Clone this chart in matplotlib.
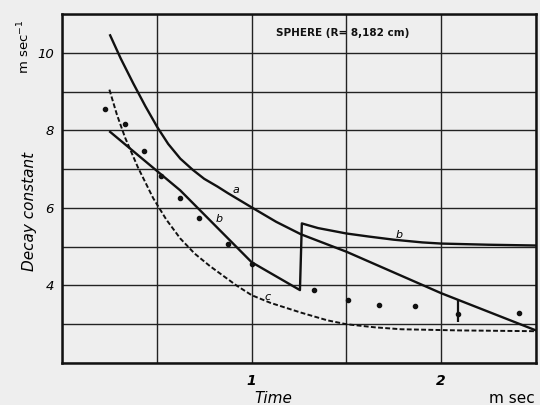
import numpy as np
import matplotlib
matplotlib.use("Agg")
import matplotlib.pyplot as plt

# curve a (solid)
a_t = [0.254, 0.31, 0.376, 0.44, 0.503, 0.56, 0.624, 0.69, 0.75, 0.82, 0.875, 0.94, 1.005,
       1.13, 1.26, 1.5, 2.0, 2.5]
a_v = [10.45, 9.85, 9.21, 8.62, 8.08, 7.65, 7.27, 6.98, 6.75, 6.55, 6.38, 6.19, 6.00,
       5.64, 5.32, 4.87, 3.80, 2.84]

# curve b (solid, with jump)
b_t = [0.254, 0.624, 1.0, 1.255, 1.265, 1.35, 1.5, 1.62, 1.75, 1.9, 2.0, 2.25, 2.5]
b_v = [7.96, 6.45, 4.60, 3.88, 5.60, 5.48, 5.34, 5.26, 5.18, 5.11, 5.08, 5.05, 5.03]

# curve c (dashed)
c_t = [0.25, 0.29, 0.333, 0.40, 0.481, 0.55, 0.624, 0.70, 0.78, 0.85, 0.92, 1.0, 1.1,
       1.26, 1.4, 1.5, 1.65, 1.79, 2.1, 2.5]
c_v = [9.05, 8.40, 7.81, 7.05, 6.25, 5.70, 5.21, 4.82, 4.50, 4.25, 4.00, 3.75, 3.55,
       3.30, 3.10, 3.00, 2.92, 2.87, 2.84, 2.82]

# measured points
pt_t = [0.228, 0.333, 0.43, 0.52, 0.62, 0.72, 0.878, 1.0, 1.33, 1.51, 1.67, 1.86, 2.09, 2.41]
pt_v = [8.56, 8.17, 7.47, 6.82, 6.25, 5.75, 5.08, 4.56, 3.87, 3.62, 3.49, 3.47, 3.26, 3.29]
err_t = [2.09]
err_lo = [3.05]
err_hi = [3.62]

x_ticks = [0, 0.5, 1, 1.5, 2, 2.5]
x_labels = ["", "", "1", "", "2", ""]
y_ticks = [2, 3, 4, 5, 6, 7, 8, 9, 10, 11]
y_labels = ["", "", "4", "", "6", "", "8", "", "10", ""]

bg = "#eeeeee"
fig = plt.figure(figsize=(5.4, 4.05), dpi=100, facecolor=bg)
ax = fig.add_axes([0.1148, 0.1037, 0.8778, 0.8617], facecolor=bg)

ax.plot(a_t, a_v, color="#111111", lw=1.7)
ax.plot(b_t, b_v, color="#111111", lw=1.7)
ax.plot(c_t, c_v, color="#111111", lw=1.4, ls=(0, (2.5, 1.2)))
ax.plot(pt_t, pt_v, "o", color="#111111", ms=3.0, ls="none")
ax.vlines(err_t, err_lo, err_hi, color="#111111", lw=1.6)

# curve letters
ax.text(0.92, 6.45, "a", fontsize=8, style="italic", ha="center", va="center")
ax.text(0.83, 5.72, "b", fontsize=8, style="italic", ha="center", va="center")
ax.text(1.78, 5.30, "b", fontsize=8, style="italic", ha="center", va="center")
ax.text(1.085, 3.70, "c", fontsize=8, style="italic", ha="center", va="center")

ax.text(1.48, 10.5, "SPHERE (R= 8,182 cm)", fontsize=7.5, fontweight="bold",
        ha="center", va="center", color="#111111")

ax.set_xlim(0, 2.5)
ax.set_ylim(2, 11)
ax.set_xticks(x_ticks)
ax.set_xticklabels(x_labels, fontsize=10, style="italic", fontweight="bold")
ax.set_yticks(y_ticks)
ax.set_yticklabels(y_labels, fontsize=9.5, style="italic")
ax.tick_params(axis="y", length=0, pad=6)
ax.tick_params(axis="x", length=0, pad=8)
ax.grid(True, color="#222222", lw=1.0)
for s in ax.spines.values():
    s.set_linewidth(1.8)
    s.set_color("#111111")

fig.text(0.054, 0.477, "Decay constant", rotation=90, fontsize=11, style="italic",
         ha="center", va="center")
fig.text(0.045, 0.885, "m sec$^{-1}$", rotation=90, fontsize=9.5,
         ha="center", va="center")
fig.text(0.507, 0.015, "Time", fontsize=11, style="italic", ha="center", va="center")
fig.text(0.948, 0.015, "m sec", fontsize=11, ha="center", va="center")

fig.savefig("out.png", dpi=100, facecolor=bg)
